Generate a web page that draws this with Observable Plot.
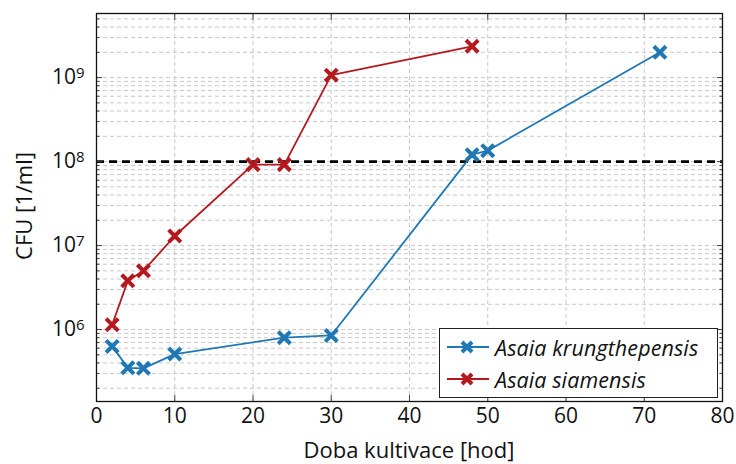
<!DOCTYPE html>
<html><head><meta charset="utf-8">
<script src="https://cdn.jsdelivr.net/npm/d3@7"></script>
<script src="https://cdn.jsdelivr.net/npm/@observablehq/plot@0.6"></script>
<style>
body{margin:0;background:#fff;}
#wrap{position:relative;width:736px;height:464px;font-family:"Open Sans", sans-serif;color:#111;}
.legend{position:absolute;left:439px;top:328px;width:279px;height:70px;border:1.2px solid #222;background:#fff;box-sizing:border-box;}
.legend .row{position:absolute;left:0;height:30px;display:flex;align-items:center;}
.legend .row span{font-style:italic;font-size:21.5px;margin-left:6px;letter-spacing:0.1px;}
</style></head><body><div id="wrap"></div>
<script>
const hoursK = [2, 4, 6, 10, 24, 30, 48, 50, 72];
const cfuK = [6.3e5, 3.5e5, 3.45e5, 5.1e5, 8.0e5, 8.5e5, 1.21e8, 1.35e8, 2.0e9];
const hoursS = [2, 4, 6, 10, 20, 24, 30, 48];
const cfuS = [1.14e6, 3.8e6, 5.0e6, 1.3e7, 9.2e7, 9.2e7, 1.07e9, 2.36e9];
const seriesNames = ["Asaia krungthepensis", "Asaia siamensis"];
const seriesColors = ["#1f78b4", "#b5191e"];
const xTicks = [0, 10, 20, 30, 40, 50, 60, 70, 80];
const yTicks = [1e6, 1e7, 1e8, 1e9];
const threshold = [1e8];
const xDomain = [0, 80];
const yDomain = [1.39e5, 5.8e9];

const data = [
  ...hoursK.map((h, i) => ({hours: h, cfu: cfuK[i], series: seriesNames[0]})),
  ...hoursS.map((h, i) => ({hours: h, cfu: cfuS[i], series: seriesNames[1]}))
];
const minorTicks = [];
for (let e = 5; e <= 9; e++) for (let m = 2; m <= 9; m++) {
  const v = m * Math.pow(10, e);
  if (v >= yDomain[0] && v <= yDomain[1]) minorTicks.push(v);
}
const gridCol = "#c8c8c8";
const font = "'Open Sans', sans-serif";

const chart = Plot.plot({
  width: 736, height: 464,
  marginLeft: 96, marginRight: 14, marginTop: 13, marginBottom: 63,
  style: {fontFamily: font, fontSize: "21px", color: "#111", background: "#fff"},
  x: {domain: xDomain, label: null},
  y: {type: "log", domain: yDomain, label: null},
  color: {domain: seriesNames, range: seriesColors},
  marks: [
    Plot.gridY(minorTicks, {stroke: gridCol, strokeOpacity: 1, strokeDasharray: "4,3", strokeWidth: 1}),
    Plot.gridY(yTicks, {stroke: gridCol, strokeOpacity: 1, strokeDasharray: "4,3", strokeWidth: 1}),
    Plot.gridX(xTicks, {stroke: gridCol, strokeOpacity: 1, strokeDasharray: "4,3", strokeWidth: 1}),
    Plot.ruleY(threshold, {stroke: "#000", strokeWidth: 2.6, strokeDasharray: "8,5"}),
    Plot.line(data, {x: "hours", y: "cfu", stroke: "series", strokeWidth: 1.8}),
    Plot.dot(data, {x: "hours", y: "cfu", stroke: "series", symbol: "times", r: 5.6, strokeWidth: 4}),
    Plot.axisY(yTicks, {anchor: "left", tickSize: 0, tickPadding: 12, tickFormat: d => "10^" + Math.round(Math.log10(d)), fontSize: 21}),
    Plot.axisY(yTicks, {anchor: "left", tickSize: -6, tickFormat: () => "", stroke: "#444"}),
    Plot.axisY(yTicks, {anchor: "right", tickSize: -6, tickFormat: () => "", stroke: "#444"}),
    Plot.axisY(minorTicks, {anchor: "left", tickSize: -3.5, tickFormat: () => "", stroke: "#444"}),
    Plot.axisY(minorTicks, {anchor: "right", tickSize: -3.5, tickFormat: () => "", stroke: "#444"}),
    Plot.axisX(xTicks, {anchor: "bottom", tickSize: 0, tickPadding: 7, fontSize: 21}),
    Plot.axisX(xTicks, {anchor: "bottom", tickSize: -6, tickFormat: () => "", stroke: "#444"}),
    Plot.axisX(xTicks, {anchor: "top", tickSize: -6, tickFormat: () => "", stroke: "#444"}),
    Plot.frame({stroke: "#111", strokeWidth: 1.3})
  ]
});

// superscript exponents on y tick labels
d3.select(chart).selectAll("text").each(function() {
  const t = d3.select(this);
  const s = t.text();
  if (/^10\^\d+$/.test(s)) {
    const exp = s.split("^")[1];
    t.text("");
    t.append("tspan").text("10");
    t.append("tspan").attr("dy", "-0.42em").attr("font-size", "15px").text(exp);
  }
});

const svg = d3.select(chart);
svg.append("text").attr("x", 409).attr("y", 458).attr("text-anchor", "middle")
  .attr("font-family", font).attr("font-size", 22).attr("fill", "#111").text("Doba kultivace [hod]");
svg.append("text").attr("transform", "translate(32,206) rotate(-90)").attr("text-anchor", "middle")
  .attr("font-family", font).attr("font-size", 22).attr("fill", "#111").text("CFU [1/ml]");

const wrap = document.getElementById("wrap");
wrap.appendChild(chart);

const legend = document.createElement("div");
legend.className = "legend";
seriesNames.forEach((name, i) => {
  const row = document.createElement("div");
  row.className = "row";
  row.style.top = (3 + i * 32) + "px";
  row.style.left = "7px";
  const col = seriesColors[i];
  row.innerHTML = `<svg width="42" height="20"><line x1="0" x2="42" y1="10" y2="10" stroke="${col}" stroke-width="1.8"/>` +
    `<path d="M15,5L25,15M25,5L15,15" stroke="${col}" stroke-width="4" fill="none"/></svg><span>${name}</span>`;
  legend.appendChild(row);
});
wrap.appendChild(legend);
</script></body></html>
